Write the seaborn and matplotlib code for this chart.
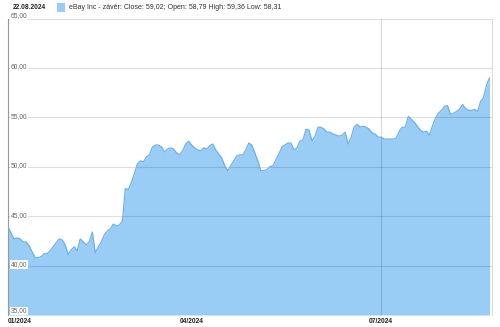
import numpy as np
import pandas as pd
import matplotlib
matplotlib.use("Agg")
import matplotlib.pyplot as plt
import matplotlib.transforms as mtransforms
from matplotlib.patches import Rectangle
import seaborn as sns

# ---- data (daily close, eBay Inc, 02.01.2024 - 22.08.2024) ----
close = [
    43.9, 43.3, 42.7, 42.8, 42.7, 42.4, 42.4, 42.0, 41.4, 40.8,
    40.8, 40.9, 41.2, 41.2, 41.5, 41.9, 42.3, 42.7, 42.6, 42.1,
    41.1, 41.6, 41.9, 41.5, 42.7, 42.4, 42.1, 42.4, 43.4, 41.3,
    41.9, 42.4, 43.1, 43.5, 43.7, 44.2, 44.0, 44.1, 44.5, 47.8,
    47.7, 48.4, 49.3, 50.3, 50.6, 50.5, 51.0, 51.2, 52.0, 52.2,
    52.2, 52.0, 51.5, 51.8, 51.9, 51.8, 51.4, 51.2, 51.6, 52.3,
    52.6, 52.2, 51.9, 51.7, 51.6, 51.9, 51.8, 52.1, 52.3, 51.7,
    51.3, 50.9, 50.1, 49.6, 50.1, 50.6, 51.1, 51.2, 51.2, 51.7,
    52.4, 52.2, 51.4, 50.6, 49.6, 49.6, 49.7, 50.0, 50.1, 50.7,
    51.3, 52.0, 52.2, 52.4, 52.4, 51.7, 51.9, 52.6, 52.7, 53.8,
    53.7, 52.6, 53.1, 54.0, 54.0, 53.8, 53.5, 53.5, 53.3, 53.2,
    53.1, 53.2, 53.5, 52.3, 53.0, 54.0, 54.3, 54.0, 54.1, 54.0,
    53.8, 53.4, 53.3, 53.0, 53.0, 52.8, 52.8, 52.8, 52.8, 52.9,
    53.6, 54.0, 54.0, 55.1, 54.8, 54.5, 54.1, 53.7, 53.5, 53.6,
    53.2, 54.1, 54.9, 55.4, 55.7, 56.1, 56.2, 55.3, 55.4, 55.6,
    55.8, 56.3, 55.9, 55.7, 55.7, 55.8, 55.6, 56.6, 57.0, 58.3,
    59.0,
]
day_index = list(range(len(close)))

x_tick_pos = [0, 61, 124]
x_tick_labels = ["01/2024", "04/2024", "07/2024"]
y_ticks = [35, 40, 45, 50, 55, 60, 65]
y_tick_labels = ["35,00", "40,00", "45,00", "50,00", "55,00", "60,00", "65,00"]

header_date = "22.08.2024"
legend_text = "eBay Inc - závěr: Close: 59,02; Open: 58,79 High: 59,36 Low: 58,31"

df = pd.DataFrame({"day": day_index, "close": close})

# ---- styling ----
sns.set_theme(style="white")
plt.rcParams["font.family"] = ["Liberation Sans", "DejaVu Sans"]

fill_color = "#99CDF6"
line_color = "#6EB0EA"

fig = plt.figure(figsize=(5.0, 3.27), dpi=100)
fig.patch.set_facecolor("white")
ax = fig.add_axes([8 / 500, 1 - 315 / 327, (492 - 8) / 500, (315 - 18.5) / 327])
ax.set_facecolor("white")

ax.fill_between(df["day"], df["close"], 35, color=fill_color, linewidth=0, zorder=2)
sns.lineplot(data=df, x="day", y="close", ax=ax, color=line_color, linewidth=0.9, zorder=3)

ax.set_xlim(0, 160.8)
ax.set_ylim(35, 65)

# horizontal grid (semi-transparent so it shows through the fill)
ax.set_yticks(y_ticks)
ax.set_yticklabels([])
ax.yaxis.grid(True, color="black", alpha=0.13, linewidth=0.8, zorder=2.5)
ax.tick_params(axis="y", length=0)
ax.set_axisbelow(False)

# vertical line at 07/2024 only
ax.axvline(x_tick_pos[2], color="black", alpha=0.15, linewidth=0.8, zorder=2.6)

# y tick labels drawn inside the plot
trans = mtransforms.blended_transform_factory(ax.transAxes, ax.transData)
for v, lab in zip(y_ticks, y_tick_labels):
    if v == y_ticks[-1]:
        y, va = v + 0.32, "center"
    elif v == y_ticks[0]:
        y, va = v + 0.05, "bottom"
    else:
        y, va = v + 0.1, "center"
    ax.text(0.006, y, lab, transform=trans, ha="left", va=va,
            fontsize=4.8, color="#666666", zorder=5, clip_on=False,
            bbox=dict(boxstyle="square,pad=0.1", facecolor="white", edgecolor="none"))

# x tick labels
ax.set_xticks(x_tick_pos)
ax.set_xticklabels(x_tick_labels, fontsize=4.8, fontweight="bold", color="#222222")
ax.tick_params(axis="x", length=0, pad=2)
ax.get_xticklabels()[0].set_ha("left")
ax.set_xlabel("")
ax.set_ylabel("")

for s in ["top", "bottom"]:
    ax.spines[s].set_visible(False)
ax.spines["left"].set_color("#9A9A9A")
ax.spines["left"].set_linewidth(0.8)
ax.spines["right"].set_color("#DDDDDD")
ax.spines["right"].set_linewidth(0.8)

# header
fig.text(13 / 500, 1 - 7.5 / 327, header_date, fontsize=4.8, fontweight="bold",
         color="#222222", ha="left", va="center")
fig.patches.append(Rectangle((57 / 500, 1 - 11.5 / 327), 8 / 500, 8 / 327,
                             transform=fig.transFigure, facecolor=fill_color,
                             edgecolor="none"))
fig.text(69 / 500, 1 - 7.5 / 327, legend_text, fontsize=5.0, color="#333333",
         ha="left", va="center")

fig.savefig("out.png", dpi=100, facecolor="white")
